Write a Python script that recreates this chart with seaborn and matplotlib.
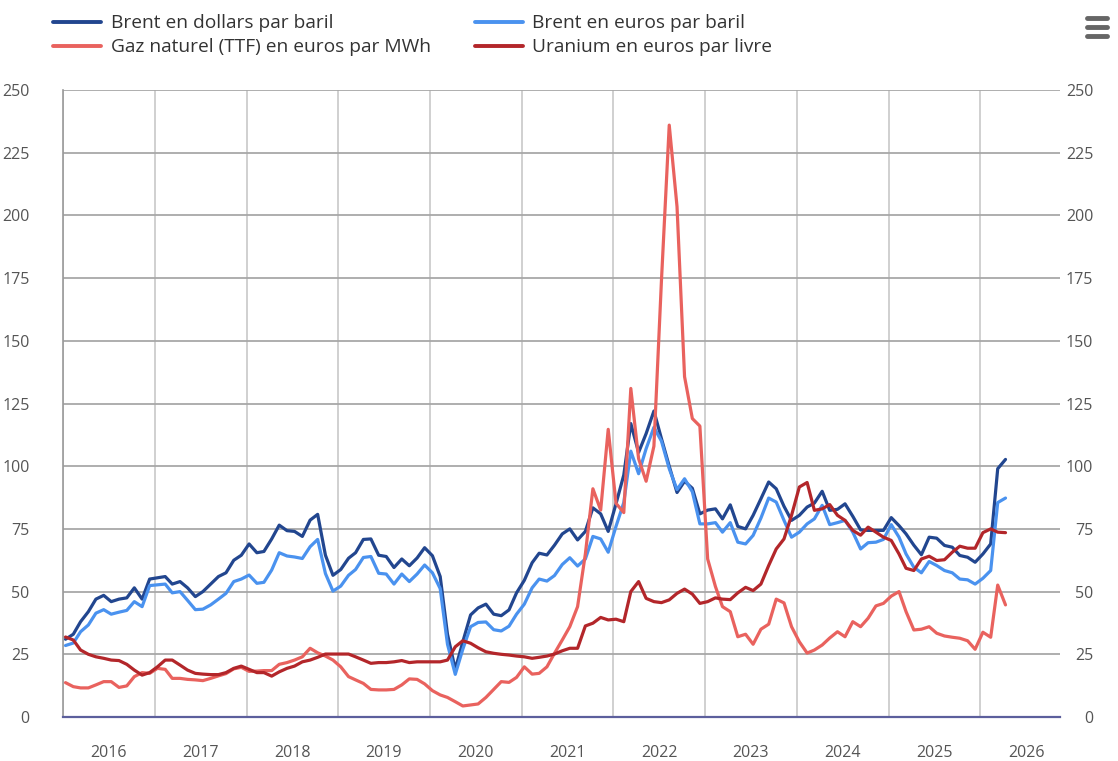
import pandas as pd
import numpy as np
import matplotlib
matplotlib.use('Agg')
import matplotlib.pyplot as plt
import matplotlib.dates as mdates
from matplotlib.lines import Line2D
import seaborn as sns

# =============================================================================
# Data (monthly, Jan 2016 -> Apr 2026)
# =============================================================================

brent_usd = [31, 33, 38, 42, 47, 48.5, 46, 47, 47.5, 51.5, 47, 55,
             55.5, 56, 53, 54, 51.5, 48, 50, 53, 56, 57.5, 62.5, 64.5,
             69, 65.5, 66, 71, 76.5, 74.3, 74, 72, 78.5, 80.8, 64.5, 56.5,
             58.8, 63.3, 65.5, 70.8, 71, 64.5, 64, 59.6, 63, 60.3, 63.4, 67.5,
             64.3, 56, 33, 19, 30, 40.7, 43.5, 45, 41, 40.4, 42.7, 49.5,
             54.5, 61.5, 65.3, 64.6, 68.5, 73, 75, 70.6, 74, 83.4, 81, 74,
             85, 96.5, 117, 105.5, 113, 122, 111, 100, 89.5, 94, 91.2, 81,
             82.5, 83, 79, 84.6, 76, 75, 80.4, 87, 93.7, 91, 84, 78.4,
             80.4, 83.7, 85.3, 90, 82.4, 82.8, 85, 80, 74.6, 74.4, 74.4, 74.4,
             79.5, 76.3, 73, 68.5, 64.7, 71.7, 71.3, 68.4, 67.7, 64.4, 63.7, 61.7,
             65, 69, 99, 102.7]

brent_eur = [28.5, 29.5, 34, 36.7, 41.4, 42.8, 41, 41.8, 42.5, 46, 44, 52.4,
             52.7, 53, 49.5, 50, 46.5, 42.8, 43, 44.7, 47, 49.3, 54, 55,
             56.6, 53.3, 53.7, 58.6, 65.5, 64.2, 63.8, 63.2, 67.9, 70.8, 57.2, 50.2,
             52.2, 56.5, 58.8, 63.6, 64, 57.3, 57, 53, 57, 54, 57, 60.6,
             57.5, 51.2, 29, 17, 27, 36, 37.7, 37.9, 34.8, 34.3, 36.2, 41,
             45, 51.5, 55, 54.2, 56.4, 60.8, 63.5, 60.2, 63, 72, 71, 65.7,
             76, 85.5, 106, 97, 107, 115.5, 110, 99, 90.7, 95, 89.8, 77,
             77, 77.5, 73.7, 77.5, 69.7, 69, 72.4, 79.3, 87.3, 85.7, 78.4, 71.7,
             73.7, 77, 79, 84.4, 76.7, 77.5, 78.4, 73.7, 67, 69.5, 69.7, 70.8,
             76.7, 71.7, 65, 59.7, 57.5, 62, 60.4, 58.4, 57.5, 55, 54.7, 53,
             55.3, 58.4, 85.5, 87.3]

gaz_ttf = [13.7, 12.1, 11.6, 11.6, 12.8, 14.1, 14.1, 11.8, 12.4, 16.1, 17.7, 17.4,
           19.4, 19, 15.4, 15.4, 15.0, 14.8, 14.5, 15.4, 16.4, 17.3, 19.2, 19.8,
           18.2, 18.3, 18.5, 18.5, 21, 21.7, 22.7, 24, 27.4, 25.6, 24.3, 22.7,
           20, 16.1, 14.8, 13.4, 11, 10.8, 10.8, 11, 12.8, 15.2, 15, 13.2,
           10.5, 8.8, 7.8, 6.1, 4.4, 4.8, 5.2, 7.8, 11, 14.1, 13.8, 15.8,
           20, 17.1, 17.4, 20, 25.4, 30.7, 36, 44, 65, 91, 82.5, 114.7,
           85.2, 81.5, 131, 103, 94, 108, 174, 236, 203.5, 135.7, 119, 116,
           63, 52, 44, 42, 32, 33, 29, 35, 37, 47, 45.5, 36,
           30, 25.5, 26.7, 28.7, 31.5, 34, 32, 38, 36, 39.4, 44.3, 45.3,
           48.2, 50, 42, 34.7, 35, 36, 33.4, 32.3, 31.8, 31.4, 30.4, 27,
           33.8, 31.8, 52.6, 44.7]

uranium_eur = [31.9, 30.7, 26.7, 25, 24, 23.4, 22.7, 22.5, 21, 18.7, 16.7, 17.7,
               20, 22.7, 22.7, 20.7, 18.7, 17.4, 17.1, 16.9, 16.9, 17.7, 19.4, 20.3,
               19, 17.7, 17.7, 16.3, 18, 19.4, 20.3, 22, 22.7, 23.8, 25.1, 25.1,
               25.1, 25.1, 24, 22.7, 21.4, 21.7, 21.7, 22, 22.5, 21.7, 22, 22,
               22, 22, 22.7, 28, 30.4, 29.4, 27.6, 26, 25.4, 25, 24.7, 24.3,
               24, 23.4, 23.8, 24.3, 25.1, 26.4, 27.4, 27.4, 36.3, 37.4, 39.7, 38.7,
               39, 38, 50, 54, 47.3, 46, 45.6, 46.7, 49.3, 51, 49, 45.3,
               46, 47.5, 47, 46.8, 49.5, 51.7, 50.4, 53, 60.4, 67, 71, 80.4,
               91.7, 93.5, 82.4, 83, 84.7, 80.4, 78.4, 74.4, 72.5, 75.7, 73.7, 71.7,
               70.4, 65, 59.3, 58.4, 63, 64.1, 62.4, 62.7, 65.7, 68.1, 67.3, 67.3,
               73.5, 75, 73.7, 73.5]

series_names = ['Brent en dollars par baril', 'Brent en euros par baril',
                'Gaz naturel (TTF) en euros par MWh', 'Uranium en euros par livre']
colors = {'Brent en dollars par baril': '#22468f',
          'Brent en euros par baril': '#4a92ef',
          'Gaz naturel (TTF) en euros par MWh': '#e9625e',
          'Uranium en euros par livre': '#b3262a'}
years = list(range(2016, 2027))
y_ticks = list(range(0, 251, 25))

# =============================================================================
# Build long table
# =============================================================================

dates = pd.date_range('2016-01-01', periods=len(brent_usd), freq='MS') + pd.Timedelta(days=10)
df = pd.DataFrame({'date': dates,
                   series_names[0]: brent_usd,
                   series_names[1]: brent_eur,
                   series_names[2]: gaz_ttf,
                   series_names[3]: uranium_eur})
df_long = df.melt(id_vars='date', var_name='serie', value_name='valeur')

# =============================================================================
# Plot
# =============================================================================

sns.set_theme(style='white')
plt.rcParams['font.family'] = ['Open Sans', 'DejaVu Sans']

fig = plt.figure(figsize=(11.18, 7.61), dpi=100)
ax = fig.add_axes([63 / 1118, 1 - 717 / 761, (1060 - 63) / 1118, (717 - 90) / 761])

sns.lineplot(data=df_long, x='date', y='valeur', hue='serie', hue_order=series_names,
             palette=colors, linewidth=2.3, ax=ax, legend=False, zorder=3)

ax.set_ylim(0, 250)
ax.set_yticks(y_ticks)
ax.set_xlim(pd.Timestamp('2016-01-01'), pd.Timestamp('2026-11-14'))

# year grid at Jan 1, labels at mid-year
ax.set_xticks([pd.Timestamp(f'{y}-01-01') for y in years])
ax.set_xticklabels([])
ax.set_xticks([pd.Timestamp(f'{y}-07-02') for y in years], minor=True)
ax.set_xticklabels([str(y) for y in years], minor=True)
ax.tick_params(axis='x', which='both', length=0)
ax.tick_params(axis='x', which='minor', labelsize=11.5, colors='#555555', pad=20)
ax.tick_params(axis='y', length=0, labelsize=11.5, colors='#555555',
               labelleft=True, labelright=True, pad=24)
for lab in ax.get_yticklabels():
    lab.set_horizontalalignment('right')

ax.grid(axis='y', color='#a8a8a8', linewidth=1.3, zorder=0)
ax.grid(axis='x', which='major', color='#c4c4c4', linewidth=1.1, zorder=0)
ax.set_xlabel('')
ax.set_ylabel('')
for s in ['top', 'right']:
    ax.spines[s].set_visible(False)
ax.spines['left'].set_color('#9a9a9a')
ax.spines['left'].set_linewidth(1.2)
ax.spines['bottom'].set_color('#5c5f9c')
ax.spines['bottom'].set_linewidth(1.6)

# legend, two columns
handles = [Line2D([], [], color=colors[n], linewidth=2.8) for n in series_names]
order = [0, 2, 1, 3]
fig.legend([handles[i] for i in order], [series_names[i] for i in order],
           loc='upper left', bbox_to_anchor=(36 / 1118, 1 + 3 / 761), ncol=2,
           frameon=False, fontsize=13.8, handlelength=2.5, handletextpad=0.5,
           columnspacing=2.3, labelspacing=0.32, labelcolor='#333333')

# menu icon
for yy in [18, 27, 36]:
    fig.add_artist(Line2D([1087 / 1118, 1107 / 1118], [1 - yy / 761] * 2,
                          color='#666666', linewidth=3.5, solid_capstyle='round'))

fig.savefig('out.png', dpi=100)
